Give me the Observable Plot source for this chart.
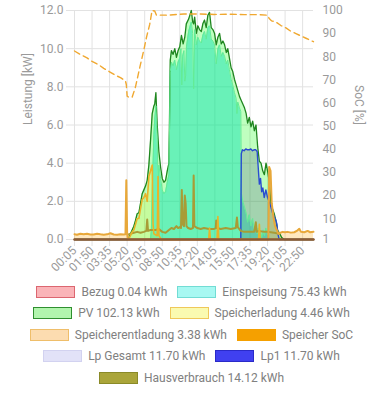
<!DOCTYPE html>
<html><head><meta charset="utf-8">
<script src="https://cdn.jsdelivr.net/npm/d3@7"></script>
<script src="https://cdn.jsdelivr.net/npm/@observablehq/plot@0.6"></script>
<style>
body{margin:0;background:#fff;font-family:Roboto,sans-serif;}
#chart svg{display:block;}
#legend{width:383px;padding-top:1px;}
.row{display:flex;justify-content:center;align-items:center;height:21.5px;}
.item{display:flex;align-items:center;margin:0 5px;font-size:12px;color:#808080;white-space:nowrap;}
.box{width:37px;height:10px;margin-right:6px;border:1.5px solid;}
</style></head><body>
<div id="chart"></div><div id="legend"></div>
<script>
// ---------- data ----------
const xTickTimes = ["00:05","01:50","03:35","05:20","07:05","08:50","10:35","12:20","14:05","15:50","17:35","19:20","21:05","22:50"];
const yTicks = [0,2,4,6,8,10,12];
const socTicks = [1,10,20,30,40,50,60,70,80,90,100];
const yTitle = "Leistung [kW]";
const y2Title = "SoC [%]";

const pvTimes = ["00:05","05:10","05:20","05:30","05:40","05:50","06:00","06:10","06:20","06:30","06:40","06:50","07:00","07:10","07:20","07:30","07:40","07:50","08:00","08:05","08:12","08:20","08:30","08:40","08:50","09:00","09:10","09:20","09:30","09:38","09:45","09:55","10:05","10:15","10:25","10:35","10:45","10:55","11:05","11:14","11:28","11:44","11:52","11:58","12:04","12:14","12:23","12:33","12:44","12:53","13:03","13:13","13:23","13:33","13:43","13:53","14:03","14:13","14:23","14:33","14:43","14:53","15:03","15:13","15:22","15:32","15:42","15:52","16:02","16:12","16:22","16:32","16:42","16:52","17:02","17:12","17:21","17:31","17:41","17:51","18:01","18:11","18:21","18:31","18:41","18:51","19:01","19:11","19:20","19:31","19:40","19:50","20:00","20:10","20:20","20:30","20:45","21:00","23:55"];
const pvValues = [0,0,0,0.1,0.3,0.5,0.7,1.0,1.35,1.4,1.9,2.4,2.6,2.8,3.1,3.9,5.2,6.6,7.0,7.1,7.7,6.0,4.6,3.8,3.2,3.0,3.1,3.6,4.0,9.4,9.9,9.7,10.0,9.55,9.9,10.1,10.7,10.25,10.6,11.3,11.55,12.0,11.4,11.3,11.65,10.8,11.2,11.0,10.9,11.3,11.5,11.1,11.75,11.9,11.1,11.0,10.8,10.2,10.6,10.8,10.25,10.4,10.2,9.8,10.0,9.5,9.0,8.8,8.4,8.1,7.8,7.5,7.3,7.1,6.9,6.6,6.1,6.4,5.9,6.2,5.7,6.0,4.85,4.1,4.0,3.6,3.4,4.0,3.6,3.0,1.9,1.6,1.35,1.0,0.5,0.35,0.1,0,0];

const expTimes = ["00:05","07:40","07:45","07:50","08:00","08:05","08:12","08:20","08:25","08:30","08:40","08:50","09:00","09:10","09:20","09:30","09:38","09:45","09:55","10:05","10:15","10:25","10:35","10:42","10:47","10:52","11:00","11:05","11:10","11:15","11:28","11:44","11:52","11:58","12:04","12:14","12:23","12:33","12:44","12:53","13:03","13:13","13:23","13:33","13:43","13:53","14:03","14:13","14:23","14:33","14:43","14:53","15:03","15:13","15:22","15:32","15:42","15:52","16:02","16:12","16:17","16:22","16:32","16:40","16:44","16:52","17:02","17:12","17:21","17:31","17:41","17:51","18:01","18:11","18:18","18:25","18:31","18:38","18:45","18:55","19:02","19:10","19:20","19:30","19:40","23:55"];
const expValues = [0,0,0.5,2.5,5.5,6.3,7.0,5.3,2.6,3.9,3.2,2.6,2.4,2.5,3.0,3.4,8.8,9.3,9.1,9.4,8.9,9.3,9.5,10.0,8.1,9.6,9.9,8.3,8.6,10.1,10.9,11.4,10.8,7.9,11.0,10.2,10.6,10.4,10.3,10.7,10.9,10.5,11.1,11.2,10.5,10.4,10.2,9.2,10.0,10.2,9.6,9.8,9.6,9.2,9.4,8.9,8.4,8.1,7.7,7.4,6.6,7.2,6.9,6.7,2.4,2.0,1.7,1.4,0.9,1.3,0.7,1.1,0.5,0.8,0.3,0.6,0.2,0.4,0.1,0.5,0.2,0.6,0.3,0.1,0,0];

const chgTimes = ["00:05","05:20","05:30","05:40","05:50","06:00","06:10","06:20","06:30","06:40","06:50","07:00","07:10","07:20","07:30","07:40","07:50","07:55","08:00","08:20","08:25","08:30","08:45","13:28","13:33","13:38","14:18","14:23","14:28","18:26","18:31","18:36","23:55"];
const chgValues = [0,0,0.05,0.2,0.4,0.5,0.8,1.1,1.1,1.6,2.1,2.2,2.4,2.0,3.3,3.6,3.9,0.8,0.3,0.2,3.3,0.2,0,0,0.6,0,0,1.2,0,0,0.8,0,0];

const disTimes = ["00:05","00:20","00:40","01:00","01:20","01:40","02:00","02:20","02:40","03:00","03:20","03:40","04:00","04:20","04:40","05:00","05:10","05:15","05:20","05:25","19:25","19:30","19:38","19:45","19:55","20:05","20:15","20:25","20:35","20:50","21:05","21:20","21:40","22:00","22:15","22:30","22:40","23:00","23:20","23:35","23:55"];
const disValues = [0.28,0.25,0.3,0.27,0.3,0.26,0.26,0.3,0.27,0.25,0.27,0.33,0.26,0.25,0.27,0.26,0.27,3.1,0.3,0,0,3.8,3.6,1.9,1.2,0.7,0.5,0.3,0.35,0.4,0.38,0.4,0.36,0.38,0.45,0.56,0.4,0.38,0.45,0.38,0.4];

const lpTimes = ["00:05","16:40","16:43","16:50","17:00","17:10","17:20","17:30","17:40","17:50","18:00","18:10","18:18","18:24","18:31","18:38","18:45","18:52","19:00","19:10","19:20","19:30","19:40","19:50","20:00","20:10","20:16","20:22","20:30","23:55"];
const lpValues = [0,0,4.5,4.7,4.65,4.75,4.7,4.7,4.75,4.65,4.7,4.7,4.6,3.8,2.9,3.2,2.5,2.7,2.2,2.6,2.2,2.0,1.7,1.4,1.2,1.0,0.8,0.3,0,0];

const houseTimes = ["05:25","05:40","06:00","06:20","06:40","07:00","07:15","07:20","07:25","07:40","08:10","08:30","08:50","09:10","09:30","09:45","10:00","10:15","10:25","10:35","10:42","10:47","10:52","11:00","11:05","11:10","11:15","11:25","11:40","11:54","11:58","12:02","12:20","12:40","13:00","13:30","14:00","14:10","14:13","14:17","14:40","15:10","15:40","16:10","16:17","16:22","16:40","17:00","17:30","18:00","18:10","18:15","18:30","19:00","19:20","19:40","20:00","20:30"];
const houseValues = [0.25,0.3,0.35,0.4,0.35,0.4,0.45,1.05,0.45,0.5,0.5,0.55,0.4,0.35,0.5,0.6,0.55,0.7,0.6,0.65,0.6,2.6,0.8,0.7,2.3,1.9,0.7,0.6,0.55,0.6,3.35,0.7,0.6,0.55,0.6,0.55,0.55,0.6,1.0,0.6,0.55,0.6,0.55,0.6,1.15,0.65,0.45,0.4,0.4,0.4,0.9,0.4,0.45,0.4,0.4,0.38,0.35,0.3];

const socTimes = ["00:05","00:40","01:20","01:50","02:30","03:00","03:35","04:10","04:40","05:10","05:15","05:20","05:30","05:50","06:10","06:36","07:00","07:16","07:35","07:49","08:05","08:15","09:30","11:00","12:30","14:00","15:30","17:00","18:30","19:15","19:20","19:30","19:45","20:10","20:40","21:10","21:40","22:10","22:40","23:10","23:40","23:55"];
const socValues = [82.5,81,79.5,78,76.5,75,73.5,72,71,69.5,68,63,62.5,62.5,67,75.5,83,88.5,94,100,99.8,98,98,98.5,98.5,98.3,98.4,98.2,98.2,98,98,96.5,95.5,95,93.5,92.5,91,90,89,88,87,86.5];

const bezugTimes = ["00:05","23:55"];
const bezugValues = [0,0];

const legendRows = [
  [["Bezug 0.04 kWh","#fab4b8","#dc6670","solid"],["Einspeisung 75.43 kWh","#a8f8f2","#72dcd4","solid"]],
  [["PV 102.13 kWh","#b2f5ae","#2f8f2f","solid"],["Speicherladung 4.46 kWh","#fafab0","#efc85a","solid"]],
  [["Speicherentladung 3.38 kWh","#fcdcb0","#efbe6a","solid"],["Speicher SoC","#f5a000","#f5a000","dashed"]],
  [["Lp Gesamt 11.70 kWh","#e2e2f8","#d2d2f0","solid"],["Lp1 11.70 kWh","#4040f0","#2a2ac8","solid"]],
  [["Hausverbrauch 14.12 kWh","#aaa53a","#8a8a28","solid"]]
];

// ---------- helpers ----------
const toMin = s => { const [h, m] = s.split(":").map(Number); return h * 60 + m; };
const fmt = m => String(Math.floor(m / 60)).padStart(2, "0") + ":" + String(m % 60).padStart(2, "0");
const ser = (times, vals) => times.map((t, i) => ({x: toMin(t), y: vals[i]}));
const kwPerSoc = 12 / 99; // right axis 1..100 maps onto 0..12
const socToY = s => (s - 1) * kwPerSoc;

const pv = ser(pvTimes, pvValues);
const exp = ser(expTimes, expValues);
const chg = ser(chgTimes, chgValues);
const dis = ser(disTimes, disValues);
const lp = ser(lpTimes, lpValues);
const house = ser(houseTimes, houseValues);
const soc = ser(socTimes, socValues);
const bezug = ser(bezugTimes, bezugValues);
const xTicks = xTickTimes.map(toMin);

const chart = Plot.plot({
  width: 383, height: 280,
  marginLeft: 74, marginRight: 70, marginTop: 10, marginBottom: 41,
  style: {fontFamily: "Roboto, sans-serif", fontSize: "12px", background: "white"},
  x: {type: "linear", domain: [5, 1435]},
  y: {domain: [0, 12]},
  marks: [
    Plot.gridX(xTicks, {stroke: "#e2e2e2", strokeOpacity: 1}),
    Plot.gridY(yTicks, {stroke: "#e2e2e2", strokeOpacity: 1}),
    Plot.axisX(xTicks, {tickFormat: fmt, tickRotate: -45, tickSize: 7, tickPadding: 2, stroke: "#e2e2e2", fill: "#9a9a9a", fontSize: 12, label: null}),
    Plot.axisY(yTicks, {anchor: "left", tickFormat: d => d.toFixed(1), tickSize: 8, tickPadding: 3, stroke: "#e2e2e2", fill: "#9a9a9a", label: null}),
    Plot.axisY(socTicks.map(socToY), {anchor: "right", tickFormat: v => String(Math.round(v / kwPerSoc + 1)), tickSize: 0, tickPadding: 9, fill: "#9a9a9a", label: null}),
    Plot.text([yTitle], {frameAnchor: "left", rotate: -90, dx: -46, fill: "#9a9a9a", fontSize: 12}),
    Plot.text([y2Title], {frameAnchor: "right", rotate: 90, dx: 45, fill: "#9a9a9a", fontSize: 12}),
    Plot.areaY(pv, {x: "x", y: "y", fill: "#00ff00", fillOpacity: 0.25}),
    Plot.areaY(exp, {x: "x", y: "y", fill: "#00e0b0", fillOpacity: 0.45}),
    Plot.areaY(chg, {x: "x", y: "y", fill: "#e8f000", fillOpacity: 0.17}),
    Plot.areaY(dis, {x: "x", y: "y", fill: "#ffa500", fillOpacity: 0.25}),
    Plot.areaY(lp, {x: "x", y: "y", fill: "#505080", fillOpacity: 0.25}),
    Plot.line(pv, {x: "x", y: "y", stroke: "#1f861f", strokeWidth: 1.3}),
    Plot.line(exp, {x: "x", y: "y", stroke: "#62ec96", strokeWidth: 1}),
    Plot.line(lp, {x: "x", y: "y", stroke: "#2a4bd0", strokeWidth: 1.4}),
    Plot.line(house, {x: "x", y: "y", stroke: "#a89c36", strokeWidth: 2}),
    Plot.line(chg, {x: "x", y: "y", stroke: "#e8b42a", strokeWidth: 1.6}),
    Plot.line(dis, {x: "x", y: "y", stroke: "#e8a83a", strokeWidth: 2}),
    Plot.line(soc, {x: "x", y: d => socToY(d.y), stroke: "#f0a830", strokeWidth: 1.4, strokeDasharray: "6,4"}),
    Plot.line(bezug, {x: "x", y: "y", stroke: "#8b5a36", strokeWidth: 2.5})
  ]
});
document.getElementById("chart").appendChild(chart);

const leg = document.getElementById("legend");
for (const row of legendRows) {
  const r = document.createElement("div"); r.className = "row";
  for (const [label, fill, border, dash] of row) {
    const it = document.createElement("div"); it.className = "item";
    const b = document.createElement("span"); b.className = "box";
    b.style.background = fill; b.style.borderColor = border; b.style.borderStyle = dash;
    const t = document.createElement("span"); t.textContent = label;
    it.appendChild(b); it.appendChild(t); r.appendChild(it);
  }
  leg.appendChild(r);
}
</script></body></html>
